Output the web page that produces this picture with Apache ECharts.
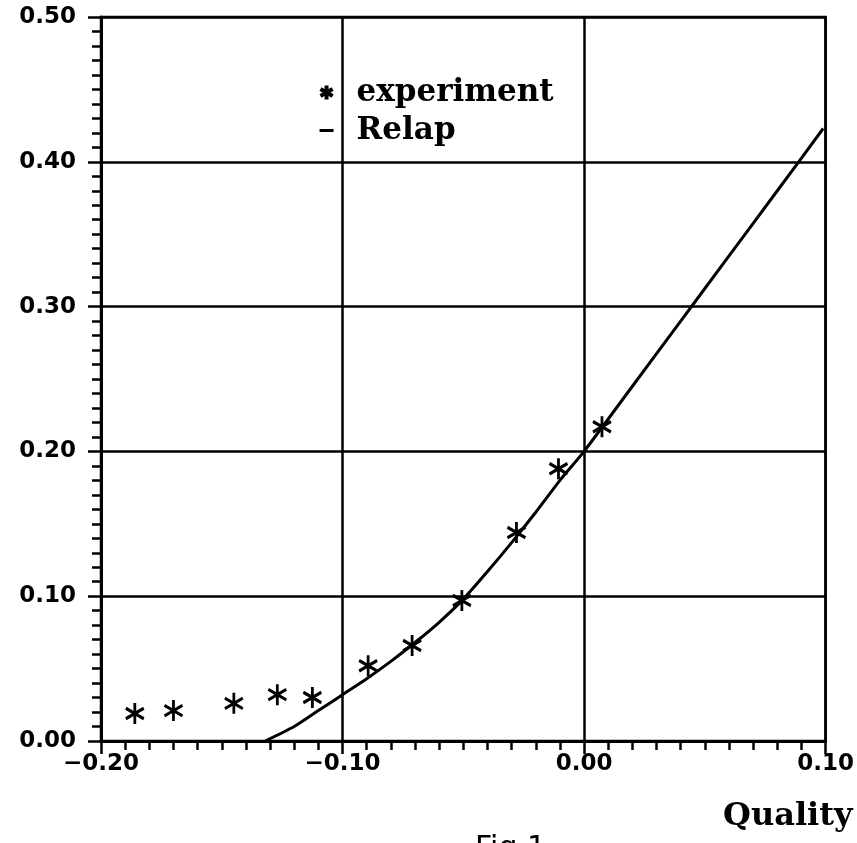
<!DOCTYPE html>
<html>
<head>
<meta charset="utf-8">
<script src="https://cdn.jsdelivr.net/npm/echarts@6/dist/echarts.min.js"></script>
<style>
html,body{margin:0;padding:0;background:#fff;}
#chart{width:857px;height:843px;}
</style>
</head>
<body>
<div id="chart"></div>
<script>
// ---- data ----
const expX = [-0.186, -0.170, -0.145, -0.127, -0.1125, -0.0894, -0.0712, -0.0506, -0.028, -0.0106, 0.0074];
const expY = [0.019, 0.021, 0.026, 0.032, 0.030, 0.052, 0.066, 0.097, 0.144, 0.188, 0.217];
const relapX = [-0.132, -0.12, -0.11, -0.10, -0.09, -0.08, -0.07, -0.06, -0.05, -0.04, -0.03, -0.02, -0.01, 0.00, 0.02, 0.04, 0.06, 0.08, 0.099];
const relapY = [0.000, 0.010, 0.021, 0.032, 0.043, 0.055, 0.068, 0.082, 0.098, 0.117, 0.137, 0.158, 0.180, 0.200, 0.245, 0.290, 0.335, 0.380, 0.423];
const xTickLabels = ['\u22120.20', '\u22120.10', '0.00', '0.10'];
const yTickLabels = ['0.00', '0.10', '0.20', '0.30', '0.40', '0.50'];
const seriesNames = ['experiment', 'Relap'];
const xAxisTitle = 'Quality';
const figTitle = 'Fig.1';

const xMin = -0.2, xMax = 0.1, yMin = 0, yMax = 0.5, step = 0.1;
const starPath = 'path://M0,-10L0,10M-8.66,-5L8.66,5M-8.66,5L8.66,-5';
const dashPath = 'path://M0,0H14V3H0Z';

const chart = echarts.init(document.getElementById('chart'), null, {renderer: 'canvas'});
chart.setOption({
  animation: false,
  backgroundColor: '#fff',
  title: {
    text: figTitle, left: 470, top: 829,
    textStyle: {fontFamily: 'DejaVu Sans', fontSize: 30, fontWeight: 'normal', color: '#000'}
  },
  grid: {
    left: 101, right: 29, top: 17, bottom: 102,
    show: true, borderColor: '#000', borderWidth: 2.5, backgroundColor: 'transparent'
  },
  legend: {
    orient: 'vertical', left: 313, top: 72,
    itemWidth: 14, itemHeight: 14, itemGap: 7,
    selectedMode: false,
    textStyle: {fontFamily: 'DejaVu Serif', fontWeight: 'bold', fontSize: 31, color: '#000', padding: [0, 0, 0, 18]},
    data: [
      {name: seriesNames[0], icon: starPath, itemStyle: {color: 'none', borderColor: '#000', borderWidth: 4, opacity: 1}},
      {name: seriesNames[1], icon: dashPath, itemStyle: {color: '#000', borderWidth: 0, opacity: 1}}
    ]
  },
  xAxis: {
    type: 'value', min: xMin, max: xMax, interval: step,
    name: xAxisTitle, nameLocation: 'end', nameGap: 27,
    nameTextStyle: {fontFamily: 'DejaVu Serif', fontWeight: 'bold', fontSize: 32, color: '#000',
      align: 'right', verticalAlign: 'top', padding: [60, 0, 0, 0]},
    axisLine: {show: true, onZero: false, lineStyle: {color: '#000', width: 3}},
    axisTick: {show: true, inside: false, length: 13, lineStyle: {color: '#000', width: 2.5}},
    minorTick: {show: true, splitNumber: 10, length: 9, lineStyle: {color: '#000', width: 2.5}},
    splitLine: {show: true, lineStyle: {color: '#000', width: 2.5}},
    axisLabel: {
      margin: 12, color: '#000', fontFamily: 'DejaVu Sans', fontWeight: 'bold', fontSize: 23,
      formatter: v => xTickLabels[Math.round((v - xMin) / step)]
    }
  },
  yAxis: {
    type: 'value', min: yMin, max: yMax, interval: step,
    axisLine: {show: true, onZero: false, lineStyle: {color: '#000', width: 3}},
    axisTick: {show: true, inside: false, length: 13, lineStyle: {color: '#000', width: 2.5}},
    minorTick: {show: true, splitNumber: 10, length: 9, lineStyle: {color: '#000', width: 2.5}},
    splitLine: {show: true, lineStyle: {color: '#000', width: 2.5}},
    axisLabel: {
      margin: 25, color: '#000', fontFamily: 'DejaVu Sans', fontWeight: 'bold', fontSize: 23,
      formatter: v => yTickLabels[Math.round((v - yMin) / step)]
    }
  },
  series: [
    {
      name: seriesNames[0], type: 'scatter',
      symbol: starPath, symbolSize: [18, 21],
      itemStyle: {color: 'none', borderColor: '#000', borderWidth: 3, opacity: 1},
      data: expX.map((x, i) => [x, expY[i]]),
      z: 5
    },
    {
      name: seriesNames[1], type: 'line',
      symbol: 'none', smooth: 0.2,
      lineStyle: {color: '#000', width: 3},
      itemStyle: {color: '#000'},
      data: relapX.map((x, i) => [x, relapY[i]]),
      z: 4
    }
  ]
});
</script>
</body>
</html>
